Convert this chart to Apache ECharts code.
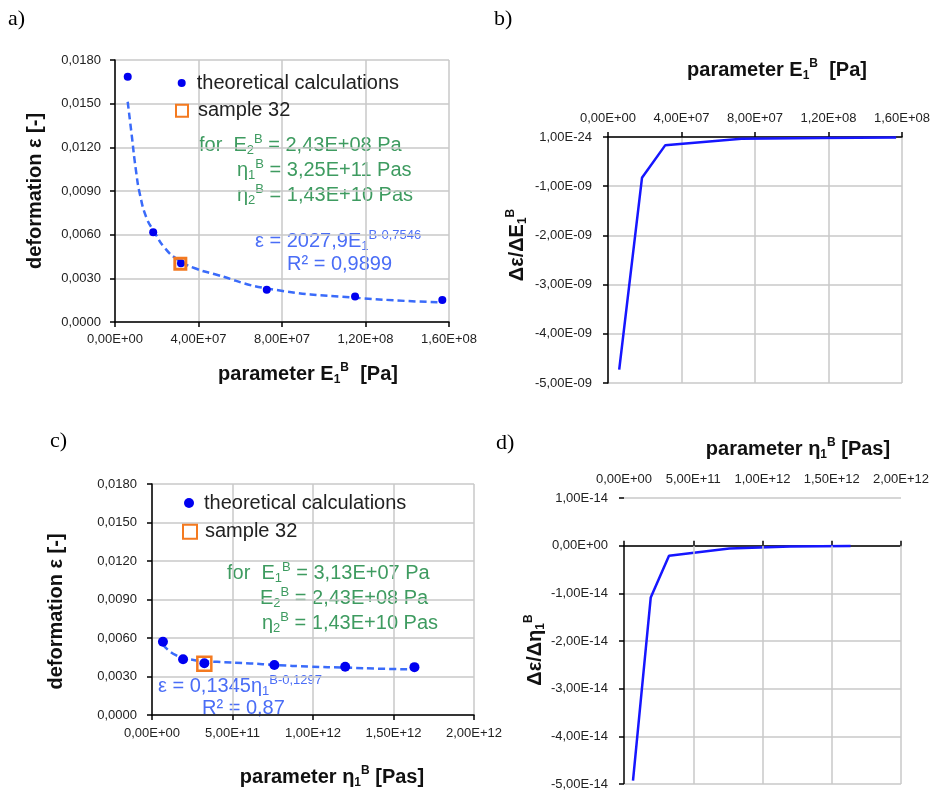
<!DOCTYPE html>
<html><head><meta charset="utf-8">
<script src="https://cdn.jsdelivr.net/npm/echarts@6/dist/echarts.min.js"></script>
<style>html,body{margin:0;padding:0;background:#fff}#c{width:933px;height:792px}</style>
</head><body><div id="c"></div>
<script>
const FONT = '"Liberation Sans", Arial, sans-serif';
// ---- panel a: deformation vs E1B
const aX = [6.1e6, 1.83e7, 3.16e7, 7.27e7, 1.15e8, 1.568e8];
const aY = [0.01685, 0.00616, 0.00403, 0.00222, 0.00176, 0.00151];
const aSampleX = [3.13e7];
const aSampleY = [0.0040];
const aTrendX = [6.08e6, 8.0e6, 9.9e6, 1.2e7, 1.52e7, 1.88e7, 2.4e7, 3.03e7, 3.83e7, 4.79e7, 7.27e7, 1.15e8, 1.557e8];
const aTrendY = [0.01513, 0.01285, 0.01056, 0.00873, 0.00712, 0.0062, 0.00506, 0.00426, 0.00369, 0.00328, 0.00231, 0.00167, 0.00135];
// ---- panel b: derivative vs E1B
const bX = [6.1e6, 1.85e7, 3.11e7, 7.27e7, 1.15e8, 1.568e8];
const bY = [-4.73e-9, -0.83e-9, -0.17e-9, -0.035e-9, -0.02e-9, -0.01e-9];
// ---- panel c: deformation vs eta1B
const cX = [6.8e10, 1.93e11, 3.25e11, 7.6e11, 1.2e12, 1.63e12];
const cY = [0.00571, 0.00434, 0.00403, 0.0039, 0.00376, 0.00373];
const cSampleX = [3.25e11];
const cSampleY = [0.0040];
const cTrendX = [6.8e10, 1.45e11, 2.58e11, 4.04e11, 6.1e11, 7.6e11, 9.83e11, 1.2e12, 1.44e12, 1.6e12];
const cTrendY = [0.00548, 0.00468, 0.00429, 0.00414, 0.00402, 0.0039, 0.00377, 0.00369, 0.0036, 0.00356];
// ---- panel d: derivative vs eta1B
const dX = [6.5e10, 1.93e11, 3.25e11, 7.6e11, 1.2e12, 1.636e12];
const dY = [-4.93e-14, -1.09e-14, -0.21e-14, -0.06e-14, -0.02e-14, -0.005e-14];
const dGridX = [5e11, 1e12, 1.5e12, 2e12];
// ---- tick labels
const epsTicks = ['0,0000', '0,0030', '0,0060', '0,0090', '0,0120', '0,0150', '0,0180'];
const e1Ticks = ['0,00E+00', '4,00E+07', '8,00E+07', '1,20E+08', '1,60E+08'];
const bYTicks = ['-5,00E-09', '-4,00E-09', '-3,00E-09', '-2,00E-09', '-1,00E-09', '1,00E-24'];
const etaTicks = ['0,00E+00', '5,00E+11', '1,00E+12', '1,50E+12', '2,00E+12'];
const dYTicks = ['-5,00E-14', '-4,00E-14', '-3,00E-14', '-2,00E-14', '-1,00E-14', '0,00E+00', '1,00E-14'];

const BLUE_DOT = '#0000F0', TREND = '#3A6BFA', LINE = '#1616FF', ORANGE = '#F47A20';
const GREEN = '#3E9B60', BLUE_TXT = '#4A6DF6';

const zip = (xs, ys) => xs.map((x, i) => [x, ys[i]]);
const lbl = (arr, min, step) => (v) => arr[Math.round((v - min) / step)] || '';

function nameRich(size) {
  return {
    b: {fontSize: size, fontWeight: 'bold', fontFamily: FONT, color: '#111', lineHeight: 24},
    s: {fontSize: 12, fontWeight: 'bold', fontFamily: FONT, color: '#111', lineHeight: 12, verticalAlign: 'bottom'},
    p: {fontSize: 12, fontWeight: 'bold', fontFamily: FONT, color: '#111', lineHeight: 12, verticalAlign: 'top'}
  };
}
function axis(o) {
  return Object.assign({
    type: 'value',
    axisLine: {show: true, onZero: false, lineStyle: {color: '#000', width: 1.5}},
    axisTick: {show: true, length: 5, lineStyle: {color: '#000', width: 1.5}},
    splitLine: {show: true, lineStyle: {color: '#c8c8c8', width: 1.5}},
    axisLabel: {fontSize: 13, color: '#222', fontFamily: FONT},
    nameLocation: 'middle'
  }, o);
}
function annRich(color, size) {
  return {
    t: {fontSize: size, fontFamily: FONT, fill: color, lineHeight: 24},
    s: {fontSize: 13, fontFamily: FONT, fill: color, lineHeight: 13, verticalAlign: 'bottom'},
    p: {fontSize: 13, fontFamily: FONT, fill: color, lineHeight: 13, verticalAlign: 'top'}
  };
}
function ann(x, y, text, color) {
  return {type: 'text', x: x, y: y, silent: true,
    style: {text: text, rich: annRich(color, 20), align: 'left', verticalAlign: 'middle'}};
}
function letter(x, y, t) {
  return {type: 'text', x: x, y: y, silent: true,
    style: {text: t, font: '22px "Liberation Serif", "Times New Roman", serif', fill: '#000'}};
}
function legendItem(left, top, name, icon, size, pad, itemStyle) {
  return {left: left, top: top, padding: 0, selectedMode: false, itemWidth: size, itemHeight: size,
    data: [{name: name, icon: icon, itemStyle: itemStyle}],
    textStyle: {fontSize: 20, fontFamily: FONT, color: '#222', lineHeight: 20, padding: [0, 0, 0, pad]}};
}

const option = {
  animation: false,
  backgroundColor: '#fff',
  grid: [
    {left: 115, top: 60, width: 334, height: 262},
    {left: 608, top: 137, width: 294, height: 246},
    {left: 152, top: 484, width: 322, height: 231},
    {left: 624, top: 498, width: 277, height: 286}
  ],
  xAxis: [
    axis({gridIndex: 0, min: 0, max: 1.6e8, interval: 4e7, position: 'bottom',
      axisLabel: {fontSize: 13, color: '#222', fontFamily: FONT, margin: 11, formatter: lbl(e1Ticks, 0, 4e7)},
      name: '{b|parameter E}{s|1}{p|B}{b|  [Pa]}', nameGap: 40,
      nameTextStyle: {rich: nameRich(20), padding: [0, 0, 0, 52]}}),
    axis({gridIndex: 1, min: 0, max: 1.6e8, interval: 4e7, position: 'top',
      axisLine: {show: true, onZero: true, lineStyle: {color: '#000', width: 1.5}},
      axisLabel: {fontSize: 13, color: '#222', fontFamily: FONT, margin: 12, formatter: lbl(e1Ticks, 0, 4e7)},
      name: '{b|parameter E}{s|1}{p|B}{b|  [Pa]}', nameGap: 55,
      nameTextStyle: {rich: nameRich(20), padding: [0, 0, 0, 44]}}),
    axis({gridIndex: 2, min: 0, max: 2e12, interval: 5e11, position: 'bottom',
      axisLabel: {fontSize: 13, color: '#222', fontFamily: FONT, margin: 12, formatter: lbl(etaTicks, 0, 5e11)},
      name: '{b|parameter η}{s|1}{p|B}{b| [Pas]}', nameGap: 50,
      nameTextStyle: {rich: nameRich(20), padding: [0, 0, 0, 38]}}),
    axis({gridIndex: 3, min: 0, max: 2e12, interval: 5e11, position: 'top',
      axisLine: {show: true, onZero: true, lineStyle: {color: '#000', width: 1.5}},
      splitLine: {show: false},
      axisLabel: {fontSize: 13, color: '#222', fontFamily: FONT, margin: 12, formatter: lbl(etaTicks, 0, 5e11)},
      name: '{b|parameter η}{s|1}{p|B}{b| [Pas]}', nameGap: 37,
      nameTextStyle: {rich: nameRich(20), padding: [0, 0, 0, 71]}})
  ],
  yAxis: [
    axis({gridIndex: 0, min: 0, max: 0.018, interval: 0.003,
      axisLabel: {fontSize: 13, color: '#222', fontFamily: FONT, margin: 14, formatter: lbl(epsTicks, 0, 0.003)},
      name: '{b|deformation ε [-]}', nameRotate: 90, nameGap: 68,
      nameTextStyle: {rich: nameRich(20)}}),
    axis({gridIndex: 1, min: -5e-9, max: 0, interval: 1e-9,
      axisLabel: {fontSize: 13, color: '#222', fontFamily: FONT, margin: 16, formatter: lbl(bYTicks, -5e-9, 1e-9)},
      name: '{b|Δε/ΔE}{s|1}{p|B}', nameRotate: 90, nameGap: 79,
      nameTextStyle: {rich: nameRich(20), padding: [0, 0, 0, 30]}}),
    axis({gridIndex: 2, min: 0, max: 0.018, interval: 0.003,
      axisLabel: {fontSize: 13, color: '#222', fontFamily: FONT, margin: 15, formatter: lbl(epsTicks, 0, 0.003)},
      name: '{b|deformation ε [-]}', nameRotate: 90, nameGap: 84,
      nameTextStyle: {rich: nameRich(20), padding: [0, 24, 0, 0]}}),
    axis({gridIndex: 3, min: -5e-14, max: 1e-14, interval: 1e-14,
      axisLine: {show: false},
      axisLabel: {fontSize: 13, color: '#222', fontFamily: FONT, margin: 16, formatter: lbl(dYTicks, -5e-14, 1e-14)},
      name: '{b|Δε/Δη}{s|1}{p|B}', nameRotate: 90, nameGap: 75,
      nameTextStyle: {rich: nameRich(20), padding: [0, 18, 0, 0]}})
  ],
  legend: [
    legendItem(177.7, 73, 'theoretical calculations', 'circle', 8, 6, {color: BLUE_DOT, opacity: 1}),
    legendItem(175, 100.7, 'sample 32', 'rect', 12, 5, {color: 'rgba(255,255,255,0)', borderColor: ORANGE, borderWidth: 2, opacity: 1}),
    legendItem(184, 493, 'theoretical calculations', 'circle', 10, 5, {color: BLUE_DOT, opacity: 1}),
    legendItem(182, 521.7, 'sample 32', 'rect', 14, 3, {color: 'rgba(255,255,255,0)', borderColor: ORANGE, borderWidth: 2, opacity: 1})
  ],
  series: [
    // a
    {type: 'line', name: 'trend a', xAxisIndex: 0, yAxisIndex: 0, data: zip(aTrendX, aTrendY), smooth: 0.5,
      showSymbol: false, symbol: 'none', lineStyle: {color: TREND, width: 2.5, type: [7, 4]}, z: 2, silent: true},
    {type: 'scatter', name: 'theoretical calculations', xAxisIndex: 0, yAxisIndex: 0, data: zip(aX, aY),
      symbolSize: 8, itemStyle: {color: BLUE_DOT, opacity: 1}, z: 3},
    {type: 'scatter', name: 'sample 32', xAxisIndex: 0, yAxisIndex: 0, data: zip(aSampleX, aSampleY),
      symbol: 'rect', symbolSize: 11, itemStyle: {color: 'rgba(255,255,255,0)', borderColor: ORANGE, borderWidth: 3, opacity: 1}, z: 4},
    // b
    {type: 'line', name: 'dE1', xAxisIndex: 1, yAxisIndex: 1, data: zip(bX, bY), showSymbol: false, symbol: 'none',
      lineStyle: {color: LINE, width: 2.5}, z: 3},
    // c
    {type: 'line', name: 'trend c', xAxisIndex: 2, yAxisIndex: 2, data: zip(cTrendX, cTrendY), smooth: 0.5,
      showSymbol: false, symbol: 'none', lineStyle: {color: TREND, width: 2.5, type: [7, 4]}, z: 2, silent: true},
    {type: 'scatter', name: 'theoretical calculations', xAxisIndex: 2, yAxisIndex: 2, data: zip(cX, cY),
      symbolSize: 10, itemStyle: {color: BLUE_DOT, opacity: 1}, z: 3},
    {type: 'scatter', name: 'sample 32', xAxisIndex: 2, yAxisIndex: 2, data: zip(cSampleX, cSampleY),
      symbol: 'rect', symbolSize: 14, itemStyle: {color: 'rgba(255,255,255,0)', borderColor: ORANGE, borderWidth: 2.5, opacity: 1}, z: 4},
    // d grid/axis lines below 0
    {type: 'scatter', name: 'd grid', xAxisIndex: 3, yAxisIndex: 3, data: [], silent: true, z: 1,
      markLine: {silent: true, symbol: ['none', 'none'], label: {show: false}, animation: false,
        data: dGridX.map(x => [{coord: [x, 0], lineStyle: {color: '#c8c8c8', width: 1.5, type: 'solid'}}, {coord: [x, -5e-14]}])
          .concat([[{coord: [0, 0], lineStyle: {color: '#000', width: 1.5, type: 'solid'}}, {coord: [0, -5e-14]}]])}},
    {type: 'line', name: 'dEta', xAxisIndex: 3, yAxisIndex: 3, data: zip(dX, dY), showSymbol: false, symbol: 'none',
      lineStyle: {color: LINE, width: 2.5}, z: 3}
  ],
  graphic: [
    letter(8, 8, 'a)'), letter(494, 8, 'b)'), letter(50, 430, 'c)'), letter(496, 432, 'd)'),
    ann(199, 145, '{t|for  E}{s|2}{p|B}{t| = 2,43E+08 Pa}', GREEN),
    ann(237, 170, '{t|η}{s|1}{p|B}{t| = 3,25E+11 Pas}', GREEN),
    ann(237, 195, '{t|η}{s|2}{p|B}{t| = 1,43E+10 Pas}', GREEN),
    ann(255, 241, '{t|ε = 2027,9E}{s|1}{p|B-0,7546}', BLUE_TXT),
    ann(287, 264, '{t|R² = 0,9899}', BLUE_TXT),
    ann(227, 573, '{t|for  E}{s|1}{p|B}{t| = 3,13E+07 Pa}', GREEN),
    ann(260, 598, '{t|E}{s|2}{p|B}{t| = 2,43E+08 Pa}', GREEN),
    ann(262, 623, '{t|η}{s|2}{p|B}{t| = 1,43E+10 Pas}', GREEN),
    ann(158, 686, '{t|ε = 0,1345η}{s|1}{p|B-0,1297}', BLUE_TXT),
    ann(202, 708, '{t|R² = 0,87}', BLUE_TXT)
  ]
};
const chart = echarts.init(document.getElementById('c'), null, {renderer: 'canvas'});
chart.setOption(option);
</script>
</body></html>
